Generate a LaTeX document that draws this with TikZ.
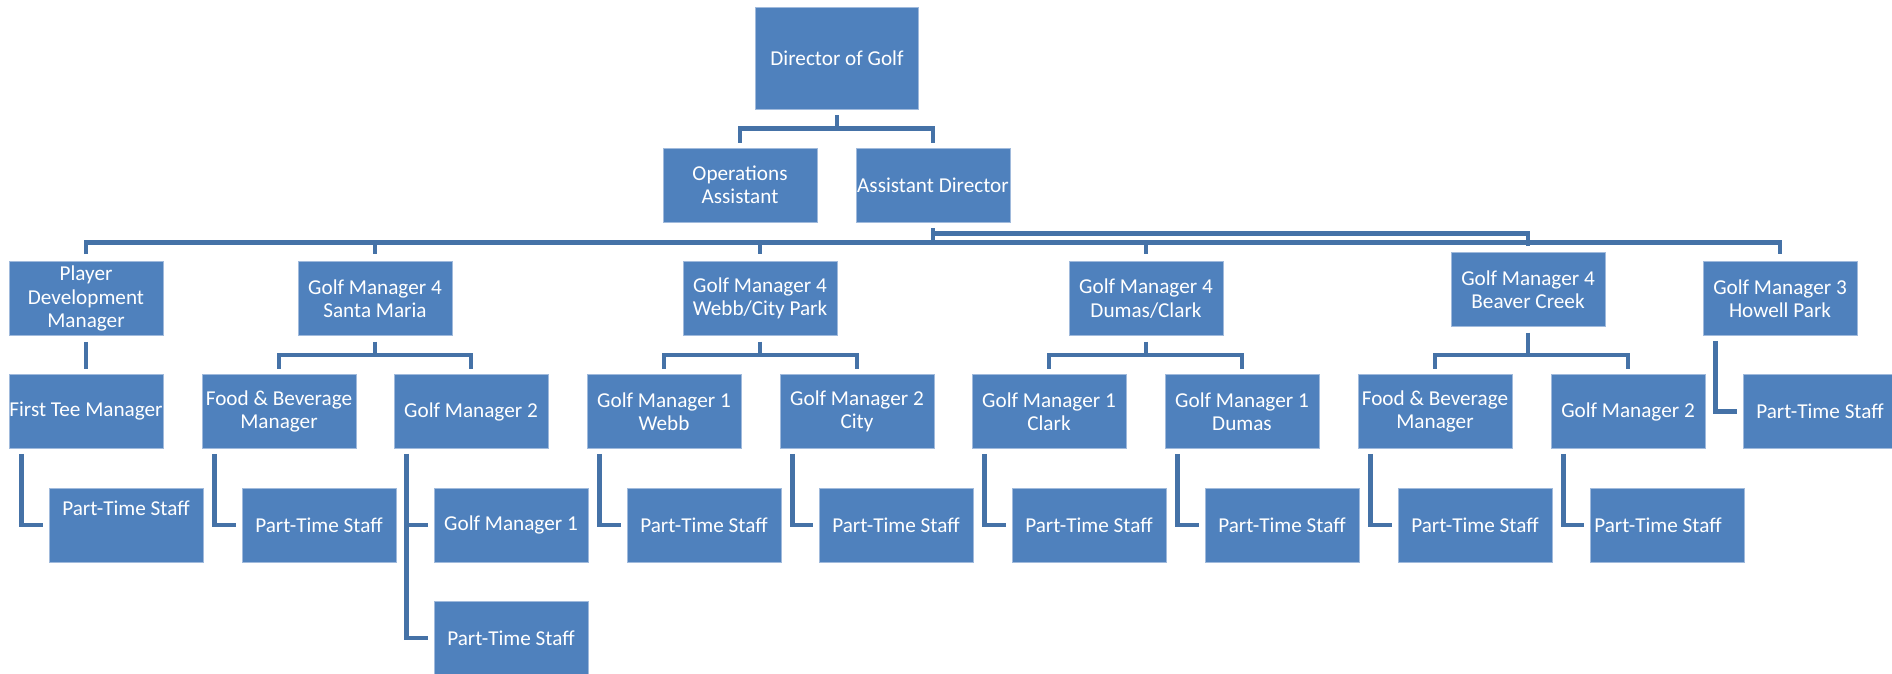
\documentclass[tikz,border=0pt]{standalone}
\usepackage{fontspec}
\setmainfont{Carlito}
\usetikzlibrary{calc}

\definecolor{boxfill}{RGB}{79,129,189}
\definecolor{boxedge}{RGB}{160,186,220}
\definecolor{linkblue}{RGB}{69,114,167}

% parent -> two children through a horizontal bus
\newcommand\orgfork[3]{%
  \draw[conn] ([yshift=-6pt]#1.south) |- ([yshift=19pt]#2.north) -- ([yshift=5pt]#2.north);
  \draw[conn] ([yshift=-6pt]#1.south) |- ([yshift=19pt]#3.north) -- ([yshift=5pt]#3.north);}
% side-hanging child, elbow from the parent's lower left
\newcommand\orgside[2]{%
  \draw[conn] ([xshift=13pt,yshift=-5pt]#1.south west) |- ([xshift=-6pt]#2.west);}

\begin{document}
\begin{tikzpicture}[x=1pt,y=-1pt,
  unit/.style={draw=boxedge, line width=0.9pt, fill=boxfill, text=white,
    inner sep=0pt, minimum width=154pt, minimum height=74pt, align=center,
    font=\fontsize{21.2}{23.4}\selectfont},
  caption/.style={text=white, inner sep=0pt, align=center,
    font=\fontsize{21.2}{23.4}\selectfont},
  conn/.style={draw=linkblue, line width=4.5pt, line join=miter}]

\useasboundingbox (0,0) rectangle (1892,673);

% top
\node[unit, minimum width=163pt, minimum height=102pt] (dir) at (837,58) {Director of Golf};
\node[unit] (ops) at (740,185) {Operations\\Assistant};
\node[unit] (ad)  at (933,185) {Assistant Director};

% second level
\node[unit] (pd)  at (86,298.5)   {Player\\Development\\Manager};
\node[unit] (sm)  at (375,298.5)  {Golf Manager 4\\Santa Maria};
\node[unit] (wcp) at (760,298.5)  {Golf Manager 4\\Webb/City Park};
\node[unit] (dc)  at (1146,298.5) {Golf Manager 4\\Dumas/Clark};
\node[unit] (bc)  at (1528,289.5) {Golf Manager 4\\Beaver Creek};
\node[unit] (hp)  at (1780,298.5) {Golf Manager 3\\Howell Park};

% third level
\node[unit] (ft)   at (86,411.5)   {First Tee Manager};
\node[unit] (fba)  at (279,411.5)  {Food \& Beverage\\Manager};
\node[unit] (gma)  at (471,411.5)  {Golf Manager 2};
\node[unit] (gmw)  at (664,411.5)  {Golf Manager 1\\Webb};
\node[unit] (gmc)  at (857,411.5)  {Golf Manager 2\\City};
\node[unit] (gmcl) at (1049,411.5) {Golf Manager 1\\Clark};
\node[unit] (gmd)  at (1242,411.5) {Golf Manager 1\\Dumas};
\node[unit] (fbb)  at (1435,411.5) {Food \& Beverage\\Manager};
\node[unit] (gmb)  at (1628,411.5) {Golf Manager 2};
\node[unit] (pth)  at (1820,411.5) {Part-Time Staff};

% fourth level
\node[unit] (ptf)  at (126,525) {};
\node[caption] (ptftext) at ([yshift=17pt]ptf.center) {Part-Time Staff};
\node[unit] (ptfa) at (319,525)  {Part-Time Staff};
\node[unit] (gmo)  at (511,525)  {Golf Manager 1};
\node[unit] (ptw)  at (704,525)  {Part-Time Staff};
\node[unit] (ptc)  at (896,525)  {Part-Time Staff};
\node[unit] (ptcl) at (1089,525) {Part-Time Staff};
\node[unit] (ptd)  at (1282,525) {Part-Time Staff};
\node[unit] (ptfb) at (1475,525) {Part-Time Staff};
\node[unit] (ptgb) at (1667,525) {};
\node[caption] (ptgbtext) at ([xshift=-9pt]ptgb.center) {Part-Time Staff};

% fifth level
\node[unit] (pts) at (511,638) {Part-Time Staff};

% director's branch
\orgfork{dir}{ops}{ad}

% the two buses under the assistant director
\coordinate (busup)  at ([yshift=-11pt]ad.south);
\coordinate (buslow) at ([yshift=-20pt]ad.south);
\draw[conn] ([yshift=-6pt]ad.south) -- (buslow);
\draw[conn] ([yshift=7pt]pd.north) |- (buslow) -| ([yshift=7pt]hp.north);
\foreach \n in {sm,wcp,dc}
  \draw[conn] (\n.north |- buslow) -- ([yshift=7pt]\n.north);
\draw[conn] (busup) -| ([yshift=6pt]bc.north);

% second to third level
\draw[conn] ([yshift=-6pt]pd.south) -- ([yshift=5pt]ft.north);
\orgfork{sm}{fba}{gma}
\orgfork{wcp}{gmw}{gmc}
\orgfork{dc}{gmcl}{gmd}
\orgfork{bc}{fbb}{gmb}
\orgside{hp}{pth}

% third level to staff
\orgside{ft}{ptf}
\orgside{fba}{ptfa}
\orgside{gma}{gmo}
\orgside{gma}{pts}
\orgside{gmw}{ptw}
\orgside{gmc}{ptc}
\orgside{gmcl}{ptcl}
\orgside{gmd}{ptd}
\orgside{fbb}{ptfb}
\orgside{gmb}{ptgb}

\end{tikzpicture}
\end{document}
